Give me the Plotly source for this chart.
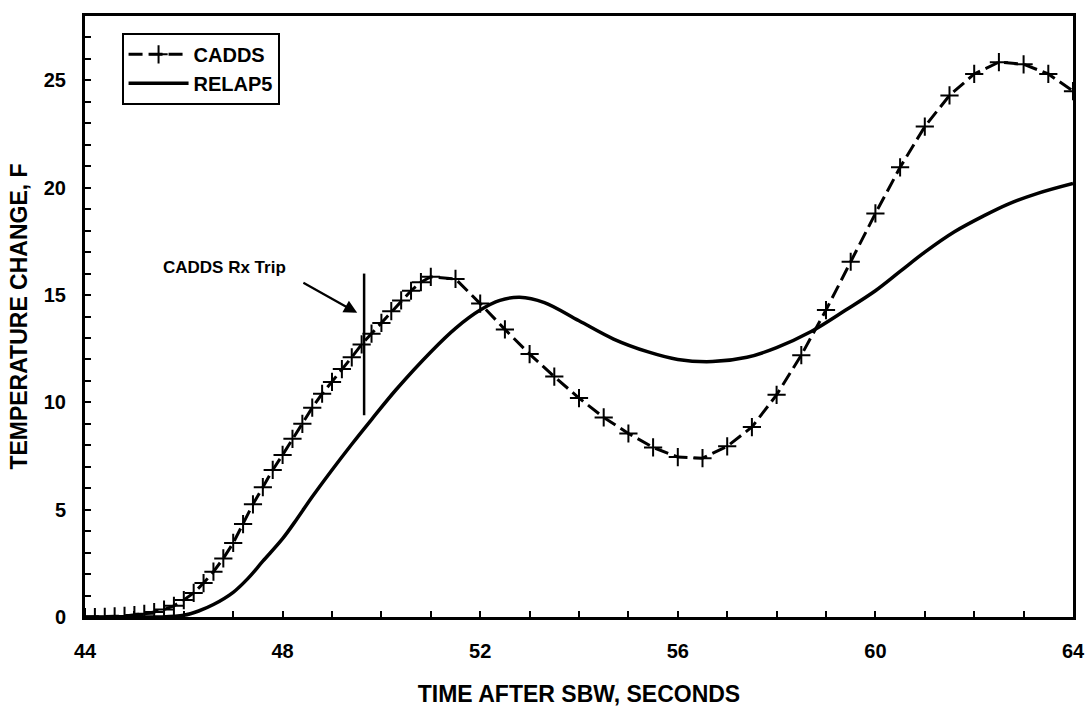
import plotly.graph_objects as go

# CADDS (time, s ; temperature change, F)
cadds_t = [44.0, 44.2, 44.4, 44.6, 44.8, 45.0, 45.2, 45.4, 45.6, 45.8,
           46.0, 46.2, 46.4, 46.6, 46.8, 47.0, 47.2, 47.4, 47.6, 47.8,
           48.0, 48.2, 48.4, 48.6, 48.8, 49.0, 49.2, 49.4, 49.6, 49.8,
           50.0, 50.2, 50.4, 50.6, 50.8, 51.0, 51.5, 52.0, 52.5, 53.0,
           53.5, 54.0, 54.5, 55.0, 55.5, 56.0, 56.5, 57.0, 57.5, 58.0,
           58.5, 59.0, 59.5, 60.0, 60.5, 61.0, 61.5, 62.0, 62.5, 63.0,
           63.5, 64.0]
cadds_v = [0.0, 0.0, 0.01, 0.03, 0.05, 0.09, 0.15, 0.23, 0.35, 0.52,
           0.79, 1.12, 1.58, 2.11, 2.73, 3.45, 4.33, 5.25, 6.05, 6.85,
           7.55, 8.3, 9.0, 9.75, 10.4, 10.95, 11.55, 12.1, 12.7, 13.2,
           13.7, 14.25, 14.75, 15.2, 15.6, 15.85, 15.75, 14.6, 13.4, 12.25,
           11.2, 10.2, 9.3, 8.55, 7.9, 7.45, 7.4, 7.95, 8.85, 10.35,
           12.2, 14.3, 16.55, 18.8, 20.95, 22.85, 24.3, 25.3, 25.85, 25.75,
           25.3, 24.5]

# RELAP5
relap_t = [44.0, 45.0, 45.5, 46.0, 46.3, 46.6, 47.0, 47.3, 47.6, 48.0,
           48.3, 48.6, 49.0, 49.4, 49.8, 50.3, 51.0, 51.5, 52.0, 52.4,
           52.8, 53.3, 54.0, 54.7, 55.4, 56.0, 56.7, 57.4, 58.0, 58.7,
           59.4, 60.0, 60.5, 61.0, 61.6, 62.2, 62.7, 63.3, 64.0]
relap_v = [0.0, 0.0, 0.0, 0.08, 0.28, 0.58, 1.15, 1.8, 2.6, 3.65,
           4.6, 5.6, 6.85, 8.05, 9.2, 10.6, 12.35, 13.45, 14.3, 14.75,
           14.9, 14.65, 13.8, 12.95, 12.35, 12.0, 11.9, 12.1, 12.55, 13.3,
           14.3, 15.2, 16.1, 17.0, 17.95, 18.7, 19.25, 19.75, 20.2]

# Rx trip marker line and annotation
trip_t = [49.65, 49.65]
trip_v = [9.4, 16.0]
trip_label = "CADDS Rx Trip"

x_ticks = [44, 48, 52, 56, 60, 64]
y_ticks = [0, 5, 10, 15, 20, 25]

FONT = "Arial, 'Liberation Sans', Helvetica, sans-serif"

fig = go.Figure()

fig.add_trace(go.Scatter(
    x=cadds_t, y=cadds_v, name="CADDS", mode="lines+markers",
    line=dict(color="black", width=3, dash="14px,6px"),
    marker=dict(symbol="cross-thin", size=13, color="black",
                line=dict(color="black", width=2)),
))
fig.add_trace(go.Scatter(
    x=relap_t, y=relap_v, name="RELAP5", mode="lines",
    line=dict(color="black", width=3.5, shape="spline", smoothing=1.0),
))
fig.add_trace(go.Scatter(
    x=trip_t, y=trip_v, mode="lines", showlegend=False,
    line=dict(color="black", width=2.5), hoverinfo="skip",
))

fig.add_annotation(
    x=46.83, y=16.3, xref="x", yref="y", text=trip_label, showarrow=False,
    font=dict(family=FONT, size=17, color="black", weight="bold"),
)
fig.add_annotation(
    x=49.51, y=14.17, ax=48.39, ay=15.61, xref="x", yref="y",
    axref="x", ayref="y", text="", showarrow=True,
    arrowhead=2, arrowsize=1.2, arrowwidth=2.2, arrowcolor="black",
)

axis_common = dict(
    showline=True, linecolor="black", linewidth=3, mirror=True,
    showgrid=False, zeroline=False,
    ticks="inside", ticklen=6, tickwidth=2, tickcolor="black",
    tickfont=dict(family=FONT, size=20, color="black", weight="bold"),
    title_font=dict(family=FONT, size=23, color="black", weight="bold"),
)

fig.update_xaxes(
    range=[44, 64], tickvals=x_ticks,
    minor=dict(dtick=1, tick0=44, ticks="inside", ticklen=6, tickwidth=2,
               tickcolor="black"),
    title_text="TIME AFTER SBW, SECONDS", title_standoff=25,
    ticklabelstandoff=14,
    **axis_common,
)
fig.update_yaxes(
    range=[0, 28], tickvals=y_ticks,
    minor=dict(dtick=1, tick0=0, ticks="inside", ticklen=6, tickwidth=2,
               tickcolor="black"),
    title_text="TEMPERATURE CHANGE, F", title_standoff=10,
    ticklabelstandoff=12,
    **axis_common,
)

fig.update_layout(
    width=1088, height=709,
    margin=dict(l=85, r=15, t=16, b=92, autoexpand=False),
    paper_bgcolor="white", plot_bgcolor="white",
    showlegend=True,
    legend=dict(
        x=0.037, y=0.972, xanchor="left", yanchor="top",
        bgcolor="white", bordercolor="black", borderwidth=2,
        font=dict(family=FONT, size=20, color="black", weight="bold"),
        itemwidth=60, tracegroupgap=0,
    ),
)

fig.write_html("out.html",
               config={"displayModeBar": False},
               post_script="document.body.style.margin='0';"
                           "document.body.style.overflow='hidden';")
